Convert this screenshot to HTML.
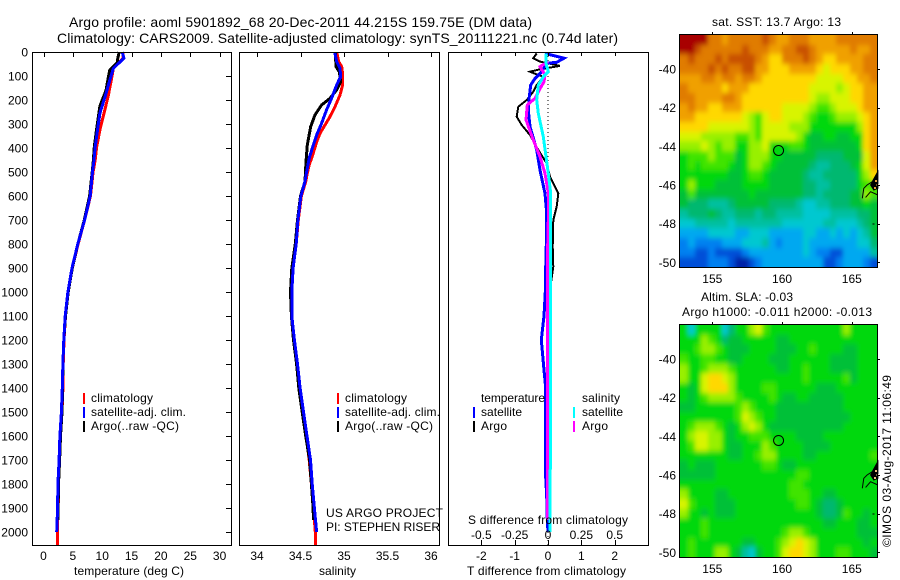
<!DOCTYPE html>
<html>
<head>
<meta charset="utf-8">
<title>Argo profile</title>
<style>
html,body{margin:0;padding:0;background:#fff;}
svg{display:block;}
text{font-family:"Liberation Sans",sans-serif;font-size:12px;fill:#000;}
.title{font-size:14px;}
.frame{fill:none;stroke:#000;stroke-width:1;shape-rendering:crispEdges;}
</style>
</head>
<body>
<svg id="chart" xmlns="http://www.w3.org/2000/svg" width="900" height="580" viewBox="0 0 900 580">
  <defs>
    <filter id="soften" x="-10%" y="-10%" width="120%" height="120%">
      <feGaussianBlur stdDeviation="2.1 2.6"/>
    </filter>
    <clipPath id="clip-sst-map"><rect x="680" y="35" width="197" height="232"/></clipPath>
    <clipPath id="clip-sla-map"><rect x="680" y="325" width="197" height="232"/></clipPath>
  </defs>
  <rect width="900" height="580" fill="#fff"/>
  <g id="maps"></g>
  <g id="lines"></g>
  <g id="ticks"></g>

  <rect class="frame" x="32.5" y="52.5" width="199" height="493"/>
  <rect class="frame" x="239.5" y="52.5" width="200" height="493"/>
  <rect class="frame" x="448.5" y="52.5" width="200" height="493"/>
  <rect class="frame" x="679.5" y="34.5" width="198" height="233"/>
  <rect class="frame" x="679.5" y="324.5" width="198" height="233"/>

  <text class="title" x="69" y="27" textLength="463">Argo profile: aoml 5901892_68 20-Dec-2011 44.215S 159.75E (DM data)</text>
  <text class="title" x="57" y="43" textLength="561">Climatology: CARS2009. Satellite-adjusted climatology: synTS_20111221.nc (0.74d later)</text>

  <text x="74" y="575" textLength="110">temperature (deg C)</text>
  <text x="319" y="575" textLength="37">salinity</text>
  <text x="467" y="575" textLength="159">T difference from climatology</text>
  <text x="468" y="524" textLength="160">S difference from climatology</text>

  <g>
    <rect x="83" y="393" width="2" height="11" fill="#f00"/>
    <rect x="83" y="407" width="2" height="11" fill="#00f"/>
    <rect x="83" y="421" width="2" height="11" fill="#000"/>
    <text x="91" y="402" textLength="62">climatology</text>
    <text x="91" y="416" textLength="95">satellite-adj. clim.</text>
    <text x="91" y="430" textLength="88">Argo(..raw -QC)</text>
  </g>
  <g>
    <rect x="337" y="393" width="2" height="11" fill="#f00"/>
    <rect x="337" y="407" width="2" height="11" fill="#00f"/>
    <rect x="337" y="421" width="2" height="11" fill="#000"/>
    <text x="345" y="402" textLength="62">climatology</text>
    <text x="345" y="416" textLength="95">satellite-adj. clim.</text>
    <text x="345" y="430" textLength="88">Argo(..raw -QC)</text>
  </g>
  <g>
    <text x="481" y="402" textLength="64">temperature</text>
    <rect x="473" y="407" width="2" height="11" fill="#00f"/>
    <rect x="473" y="421" width="2" height="11" fill="#000"/>
    <text x="481" y="416" textLength="41">satellite</text>
    <text x="481" y="430" textLength="26">Argo</text>
    <text x="582" y="402" textLength="38">salinity</text>
    <rect x="573" y="407" width="2" height="11" fill="#0ff"/>
    <rect x="573" y="421" width="2" height="11" fill="#f0f"/>
    <text x="582" y="416" textLength="41">satellite</text>
    <text x="582" y="430" textLength="26">Argo</text>
  </g>

  <text x="326" y="517" textLength="117">US ARGO PROJECT</text>
  <text x="326" y="531" textLength="114">PI: STEPHEN RISER</text>

  <text x="712" y="26" textLength="129">sat. SST: 13.7  Argo: 13</text>
  <text x="701" y="301" textLength="92">Altim. SLA: -0.03</text>
  <text x="682" y="316" textLength="190">Argo h1000: -0.011 h2000: -0.013</text>
  <text transform="translate(891,547) rotate(-90)" x="0" y="0" textLength="172">©IMOS 03-Aug-2017 11:06:49</text>
</svg>

<script>
// ---- chart data ----
const depthTicks = [0,100,200,300,400,500,600,700,800,900,1000,1100,1200,1300,1400,1500,1600,1700,1800,1900,2000];
const tempTicks = [0,5,10,15,20,25,30];
const salTicks = [34,34.5,35,35.5,36];
const salTickLabels = ['34','34.5','35','35.5','36'];
const tDiffTicks = [-2,-1,0,1,2];
const sDiffTicks = [-0.5,-0.25,0,0.25,0.5];
const sDiffTickLabels = ['-0.5','-0.25','0','0.25','0.5'];
const lonTicks = [155,160,165];
const latTicks = [-40,-42,-44,-46,-48,-50];

const tempClimDepth = [0,26,68,110,186,255,325,395,450,500,600,700,800,900,1000,1100,1200,1300,1400,1500,1600,1700,1800,1900,2000,2055];
const tempClim = [13.5,13.6,11.9,11.6,11.0,10.3,9.6,9.06,8.8,8.45,8.0,7.0,5.9,4.9,4.2,3.75,3.5,3.35,3.3,3.15,2.9,2.7,2.55,2.5,2.35,2.35];
const tempSatDepth = [0,26,68,118,186,255,325,395,450,500,600,700,800,900,1000,1100,1200,1300,1400,1500,1600,1700,1800,1900,2000];
const tempSat = [13.4,13.7,11.9,11.3,10.5,9.6,9.2,8.8,8.6,8.35,7.95,7.0,5.85,4.85,4.15,3.7,3.45,3.3,3.2,3.05,2.8,2.65,2.45,2.4,2.25];
const tempArgoDepth = [0,32,44,68,76,110,160,225,295,340,395,450,500,600,700,800,900,1000,1100,1200,1300,1400,1500,1600,1700,1800,1950];
const tempArgo = [12.9,12.6,12.6,11.6,11.3,11.0,10.65,9.6,9.2,8.94,8.66,8.5,8.3,7.85,6.95,5.85,4.9,4.2,3.75,3.45,3.3,3.25,3.15,2.9,2.75,2.55,2.45];

const salClimDepth = [1,40,61,96,137,179,228,269,304,339,374,429,471,505,540,600,700,800,900,1000,1100,1200,1300,1400,1500,1600,1700,1800,1900,2000,2055];
const salClim = [34.916,34.939,34.973,34.985,34.985,34.954,34.897,34.839,34.782,34.724,34.686,34.64,34.60,34.578,34.56,34.51,34.475,34.45,34.415,34.40,34.40,34.425,34.46,34.49,34.525,34.565,34.60,34.625,34.65,34.67,34.675];
const salSatDepth = [1,40,68,102,137,193,241,297,345,387,443,498,540,600,700,800,900,1000,1100,1200,1300,1400,1500,1600,1700,1800,1900,2000];
const salSat = [34.893,34.916,34.954,34.962,34.916,34.858,34.80,34.743,34.686,34.647,34.60,34.571,34.552,34.505,34.47,34.45,34.415,34.40,34.40,34.43,34.465,34.495,34.535,34.575,34.615,34.635,34.66,34.685];
const salArgoDepth = [1,61,82,123,158,193,221,262,311,387,457,540,600,700,800,900,1000,1100,1200,1300,1400,1500,1600,1700,1800,1900,1950];
const salArgo = [34.90,34.908,34.946,34.962,34.916,34.839,34.743,34.667,34.617,34.578,34.563,34.552,34.50,34.465,34.44,34.40,34.385,34.395,34.42,34.455,34.48,34.52,34.56,34.605,34.625,34.645,34.65];

const tDiffSatDepth = [6,26,43,47,82,110,138,186,242,311,408,492,589,672,800,900,1000,1100,1200,1325,1400,1600,1742,1850,1950,2000];
const tDiffSat = [-0.09,0.48,0.26,-0.04,-0.19,-0.39,-0.52,-0.56,-0.59,-0.54,-0.34,-0.24,-0.09,-0.04,-0.05,-0.07,-0.08,-0.12,-0.2,-0.12,-0.07,-0.08,-0.08,-0.04,-0.02,0];
const tDiffArgoDepth = [6,26,40,58,72,82,96,103,138,165,200,228,269,304,346,408,464,519,589,644,700,811,894,1000,1400,1950];
const tDiffArgo = [-0.34,-0.44,-0.24,0.36,-0.24,-0.54,-0.29,-0.14,-0.34,-0.44,-0.64,-0.89,-0.94,-0.79,-0.54,-0.29,-0.04,0.06,0.31,0.26,0.16,0.14,0.16,0.05,0.02,0];
const sDiffSatDepth = [6,47,82,103,138,200,256,353,436,506,589,700,880,1100,1400,1700,2000];
const sDiffSat = [-0.015,-0.015,0.0025,-0.035,-0.0725,-0.085,-0.0725,-0.035,-0.015,0.0025,0.02,0.02,0.018,0.017,0.018,0.017,0.015];
const sDiffArgoDepth = [40,61,96,124,158,193,221,283,367,436,506,589,700,880,1100,1400,1700,1950];
const sDiffArgo = [0.0025,-0.06,-0.0225,-0.03,-0.065,-0.0975,-0.155,-0.165,-0.11,-0.06,-0.0225,0.0025,0.0025,-0.005,-0.003,-0.003,-0.003,-0.005];

// colour levels (0 = deep blue ... 16 = dark red)
const colorLevels = ['#0020a8','#0050d8','#0080f0','#00a8f0','#00c8d0','#00c0a0','#00b870','#00c038','#00d810','#40e400','#98f000','#d8f400','#ffd800','#f0a000','#e07c00','#c85000','#a80000'];
const sstGrid = [
[16,16,16,16,14,14,13,14,14,14,14,14,15,14,13,13,14,14,14,13,13,13,13,14,14,14,14,14,14],
[16,16,15,14,14,14,14,14,14,15,14,14,14,13,13,14,14,15,15,14,13,13,13,13,13,14,13,13,14],
[14,15,14,14,14,15,14,15,15,15,15,14,13,12,12,14,14,14,15,14,13,12,12,13,13,13,13,14,14],
[14,14,14,14,15,14,15,14,14,15,15,13,13,12,12,12,13,13,13,13,12,11,12,12,12,13,13,14,14],
[13,13,13,14,14,13,14,14,13,14,14,13,12,12,12,12,12,12,12,12,11,11,11,11,12,12,13,13,14],
[14,13,13,13,13,13,12,13,13,13,12,12,12,12,12,12,12,12,12,11,11,11,11,10,11,12,12,13,13],
[14,14,13,13,13,13,14,14,13,12,12,12,12,12,12,12,12,12,12,11,10,10,11,11,11,12,12,13,13],
[13,14,13,13,12,12,13,13,13,12,12,12,12,12,12,11,11,11,11,10,9,9,10,11,11,11,12,13,13],
[13,13,12,12,12,12,12,12,12,11,10,9,11,12,12,11,11,11,10,9,8,8,9,10,10,10,11,12,13],
[12,12,12,12,11,11,11,11,11,11,10,9,11,11,11,11,10,10,10,8,8,8,8,8,8,8,10,12,13],
[11,11,11,10,10,10,10,10,9,9,10,9,11,11,11,11,11,10,8,7,7,8,8,7,7,8,8,12,13],
[10,10,10,11,10,9,10,10,8,8,10,10,11,8,8,8,9,9,8,7,7,7,7,7,7,7,8,12,13],
[8,9,9,9,10,9,9,9,7,8,10,10,10,8,8,7,7,7,7,7,6,6,6,6,7,7,7,11,13],
[8,9,8,9,9,9,9,8,7,8,10,10,9,8,7,7,7,7,7,6,5,5,6,6,6,7,8,11,13],
[8,8,8,8,8,8,8,7,7,8,9,9,8,7,7,7,7,7,6,5,5,6,6,6,6,6,8,10,12],
[8,10,8,8,8,7,7,7,7,8,8,8,8,7,7,7,7,7,6,6,5,5,6,6,6,6,8,9,9],
[7,9,7,7,7,7,7,7,7,7,8,7,7,7,7,7,7,7,6,6,5,6,6,6,6,7,7,10,9],
[7,6,6,6,5,5,5,6,7,7,7,7,7,6,6,6,6,5,4,4,5,5,6,6,6,7,7,8,7],
[5,6,6,6,7,6,5,5,6,6,6,5,6,6,5,5,5,5,4,4,4,4,5,5,5,5,6,6,7],
[4,4,5,5,5,5,5,4,5,5,5,5,5,5,5,4,4,4,4,4,4,5,5,4,4,4,5,6,7],
[3,3,3,3,4,4,4,4,3,3,4,4,4,3,3,3,3,3,4,4,3,3,4,3,4,3,4,5,7],
[2,3,2,2,2,2,3,3,3,4,4,4,5,3,2,3,3,3,4,3,3,3,3,3,3,3,4,4,6],
[2,2,1,1,2,1,1,1,1,2,3,3,3,3,3,3,3,3,4,3,2,2,1,1,3,3,3,3,5],
[1,1,1,1,2,2,2,1,0,0,1,2,3,3,3,3,3,3,3,3,3,1,1,2,3,3,3,2,1]
];
const slaGrid = [
[8,4,8,8,8,8,4,6,8,8,10,11,9,8,8,8,8,8,8,8,8,8,8,8,10,8,8,8,8],
[8,8,8,10,9,8,6,7,7,8,8,8,8,8,7,7,8,8,8,8,8,8,8,8,8,8,8,8,8],
[8,8,9,10,10,9,8,7,7,7,8,8,8,8,7,7,7,8,8,9,8,8,8,8,7,7,8,8,8],
[9,8,8,9,9,8,8,7,7,8,8,8,8,7,7,7,8,8,8,8,8,8,7,7,7,7,8,8,8],
[10,8,8,9,10,10,10,9,8,8,8,8,8,8,7,7,8,8,9,8,8,8,7,7,7,7,8,8,8],
[10,8,8,11,12,12,11,10,8,8,8,8,8,8,8,8,8,8,9,8,8,8,8,8,9,7,8,8,8],
[8,7,8,11,12,12,12,10,8,8,8,8,9,9,8,8,8,8,8,8,7,7,7,8,8,8,8,8,8],
[8,7,8,9,10,10,10,10,9,8,8,8,8,9,8,7,7,8,8,7,7,7,7,7,8,8,8,8,8],
[7,7,8,8,8,8,8,8,9,10,9,8,8,8,7,7,7,7,7,7,7,7,7,7,8,8,8,8,8],
[8,8,8,8,8,8,8,8,9,11,10,9,8,8,7,7,7,7,7,7,7,7,7,7,7,8,8,8,8],
[8,9,10,10,10,9,8,7,8,10,11,10,8,7,7,7,7,7,7,7,7,7,7,7,8,8,8,8,8],
[8,10,11,11,10,10,8,7,8,8,9,9,9,8,8,8,8,7,7,7,7,8,8,8,8,8,8,8,8],
[8,9,11,11,10,10,8,7,7,8,8,8,10,9,8,8,8,8,7,7,7,7,8,8,8,8,8,8,8],
[8,8,8,8,8,8,8,7,7,8,8,9,10,10,8,8,8,8,7,7,8,8,8,8,8,8,8,8,9],
[7,8,7,7,7,8,8,8,8,8,8,8,9,9,8,7,7,8,8,8,8,8,8,8,8,8,8,8,8],
[7,7,7,7,7,8,8,8,8,8,8,8,8,8,8,8,8,9,9,8,8,8,8,8,8,8,8,8,8],
[8,8,8,8,8,8,8,8,8,8,8,8,8,8,8,8,9,9,8,8,8,8,8,8,8,8,8,8,8],
[10,8,8,8,8,7,7,8,8,8,8,8,8,8,8,8,9,9,9,8,8,7,7,8,8,8,8,8,8],
[11,9,8,8,8,7,7,7,8,8,8,8,8,8,8,8,8,9,9,8,7,6,6,7,8,8,8,8,8],
[10,8,8,7,8,7,7,7,8,8,8,8,8,8,8,8,8,8,8,8,7,6,6,7,9,8,8,7,8],
[8,8,8,9,8,8,8,8,8,8,8,8,8,8,8,8,8,8,8,8,8,7,7,8,8,8,7,7,8],
[8,8,8,9,8,8,8,8,8,8,8,8,8,8,8,9,10,10,9,8,8,8,8,8,8,8,7,7,7],
[8,9,8,8,8,8,8,8,8,7,7,8,8,8,9,10,11,12,11,10,8,8,8,8,8,8,8,7,8],
[8,9,8,8,8,10,10,8,7,5,4,7,8,8,9,11,12,12,11,10,8,8,8,9,9,8,8,8,7]
];
const argoLon = 159.75;
const argoLat = -44.215;
const coastOuterLon = [165.75,165.86,166.1,166.47,166.87];
const coastOuterLat = [-46.69,-46.17,-46.0,-45.83,-45.31];
const coastInnerLon = [165.99,166.35,166.87];
const coastInnerLat = [-46.64,-46.35,-46.52];
const coastBlobLon = [166.87,166.47,166.35,166.58,166.87];
const coastBlobLat = [-45.31,-45.83,-46.0,-46.26,-46.17];
const islandLon = [166.47,166.64];
const islandLat = [-48.02,-48.02];

// ---- axis functions ----
const yDepth = d => 52 + 0.24 * d;
const xTemp = v => 43.5 + 5.87 * v;
const xSal = v => 257 + 87 * (v - 34);
const xTDiff = v => 548 + 33.35 * v;
const xSDiff = v => 548 + 133.4 * v;
const lonX = lon => 712.3 + 13.95 * (lon - 155);
const latY = (lat, y40) => y40 - 19.33 * (lat + 40);
const levelColor = v => colorLevels[Math.max(0, Math.min(colorLevels.length - 1, Math.round(v)))];

const NS = 'http://www.w3.org/2000/svg';
function make(parent, tag, attrs, txt) {
  const el = document.createElementNS(NS, tag);
  for (const k in attrs) el.setAttribute(k, attrs[k]);
  if (txt !== undefined) el.textContent = txt;
  parent.appendChild(el);
  return el;
}
const lineLayer = document.getElementById('lines');
const tickLayer = document.getElementById('ticks');
const mapLayer = document.getElementById('maps');

function drawProfile(xf, values, depths, color, width, name) {
  const pts = values.map((v, i) => xf(v).toFixed(1) + ',' + yDepth(depths[i]).toFixed(1)).join(' ');
  const el = make(lineLayer, 'polyline', {points: pts, fill: 'none', stroke: color, 'stroke-width': width, 'shape-rendering': 'crispEdges'});
  
  
}
function tick(x1, y1, x2, y2) {
  const el = make(tickLayer, 'line', {x1: x1, y1: y1, x2: x2, y2: y2, stroke: '#000', 'stroke-width': 1, 'shape-rendering': 'crispEdges'});
  
  
}
function label(x, y, anchor, str) {
  const el = make(tickLayer, 'text', {x: x, y: y, 'text-anchor': anchor}, str);
  
  
}

// zero line
const zeroLine = make(lineLayer, 'line', {x1: xTDiff(0), y1: 52, x2: xTDiff(0), y2: 545, stroke: '#000', 'stroke-width': 1, 'stroke-dasharray': '1 3', 'shape-rendering': 'crispEdges'});



// profiles
drawProfile(xTemp, tempClim, tempClimDepth, '#f00', 3, 'temperature-climatology-line');
drawProfile(xTemp, tempArgo, tempArgoDepth, '#000', 3, 'temperature-argo-line');
drawProfile(xTemp, tempSat, tempSatDepth, '#00f', 3, 'temperature-satellite-line');
drawProfile(xSal, salClim, salClimDepth, '#f00', 3, 'salinity-climatology-line');
drawProfile(xSal, salArgo, salArgoDepth, '#000', 3, 'salinity-argo-line');
drawProfile(xSal, salSat, salSatDepth, '#00f', 3, 'salinity-satellite-line');
drawProfile(xTDiff, tDiffArgo, tDiffArgoDepth, '#000', 2, 't-difference-argo-line');
drawProfile(xTDiff, tDiffSat, tDiffSatDepth, '#00f', 3, 't-difference-satellite-line');
drawProfile(xSDiff, sDiffArgo, sDiffArgoDepth, '#f0f', 3, 's-difference-argo-line');
drawProfile(xSDiff, sDiffSat, sDiffSatDepth, '#0ff', 3, 's-difference-satellite-line');

// depth axis
depthTicks.forEach(d => {
  const y = Math.round(yDepth(d)) + 0.5;
  tick(226, y, 231, y);
  label(28, yDepth(d) + 4.5, 'end', String(d));
});
// temperature axis
tempTicks.forEach(v => {
  const x = Math.round(xTemp(v)) + 0.5;
  tick(x, 52, x, 57);
  label(xTemp(v), 560, 'middle', String(v));
});
// salinity axis
salTicks.forEach((v, i) => {
  const x = Math.round(xSal(v)) + 0.5;
  tick(x, 52, x, 57);
  label(xSal(v), 560, 'middle', salTickLabels[i]);
});
// difference axes
tDiffTicks.forEach(v => {
  const x = Math.round(xTDiff(v)) + 0.5;
  tick(x, 52, x, 56);
  tick(x, 540, x, 545);
  label(xTDiff(v), 560, 'middle', String(v));
});
sDiffTicks.forEach((v, i) => {
  label(xSDiff(v), 539, 'middle', sDiffTickLabels[i]);
});

// maps
function drawMap(grid, top, bottom, y40, clipId, name, lonLabelY, coastTan) {
  const rows = grid.length;
  const cols = grid[0].length;
  const left = 681, right = 877;
  const bleed = 14;
  const g = make(mapLayer, 'g', {});
  
  
  const clip = make(g, 'g', {'clip-path': 'url(#' + clipId + ')'});
  
  
  const cells = make(clip, 'g', {filter: 'url(#soften)'});
  
  
  for (let r = 0; r < rows; r++) {
    for (let c = 0; c < cols; c++) {
      const x0 = Math.round(left + (right - left) * c / cols) - (c === 0 ? bleed : 0);
      const x1 = Math.round(left + (right - left) * (c + 1) / cols) + (c === cols - 1 ? bleed : 0);
      const y0 = Math.round(top + (bottom - top) * r / rows) - (r === 0 ? bleed : 0);
      const y1 = Math.round(top + (bottom - top) * (r + 1) / rows) + (r === rows - 1 ? bleed : 0);
      const cell = make(cells, 'rect', {x: x0, y: y0, width: x1 - x0, height: y1 - y0, fill: levelColor(grid[r][c]), 'shape-rendering': 'crispEdges'});
      
      
    }
  }
  const path = (lons, lats) => lons.map((l, i) => lonX(l).toFixed(1) + ',' + latY(lats[i], y40).toFixed(1)).join(' ');
  const outer = make(g, 'polyline', {points: path(coastOuterLon, coastOuterLat), fill: 'none', stroke: '#000', 'stroke-width': 1});
  
  
  const inner = make(g, 'polyline', {points: path(coastInnerLon, coastInnerLat), fill: 'none', stroke: '#000', 'stroke-width': 1});
  
  
  const blob = make(g, 'polygon', {points: path(coastBlobLon, coastBlobLat), fill: '#000', stroke: '#000', 'stroke-width': 1});
  
  
  [[-45.75,166.68],[-45.95,166.78],[-46.1,166.6]].forEach(p => {
    const s = make(g, 'rect', {x: lonX(p[1]), y: latY(p[0], y40), width: 2, height: 2, fill: coastTan, 'shape-rendering': 'crispEdges'});
    
    
  });
  const island = make(g, 'polyline', {points: path(islandLon, islandLat), fill: 'none', stroke: '#000', 'stroke-width': 1, 'shape-rendering': 'crispEdges'});
  
  
  const marker = make(g, 'circle', {cx: lonX(argoLon), cy: latY(argoLat, y40), r: 5, fill: 'none', stroke: '#000', 'stroke-width': 1});
  
  
  lonTicks.forEach(v => {
    const x = Math.round(lonX(v)) + 0.5;
    tick(x, top - 3, x, top - 1);
    label(lonX(v), lonLabelY, 'middle', String(v));
  });
  latTicks.forEach(v => {
    const y = Math.round(latY(v, y40)) + 0.5;
    tick(878, y, 880, y);
    label(676, latY(v, y40) + 4.5, 'end', String(v));
  });
}
drawMap(sstGrid, 35, 267, 69, 'clip-sst-map', 'sst-map', 283, '#e8a040');
drawMap(slaGrid, 325, 557, 359, 'clip-sla-map', 'sla-map', 573, '#f0c080');
</script>
</body>
</html>
